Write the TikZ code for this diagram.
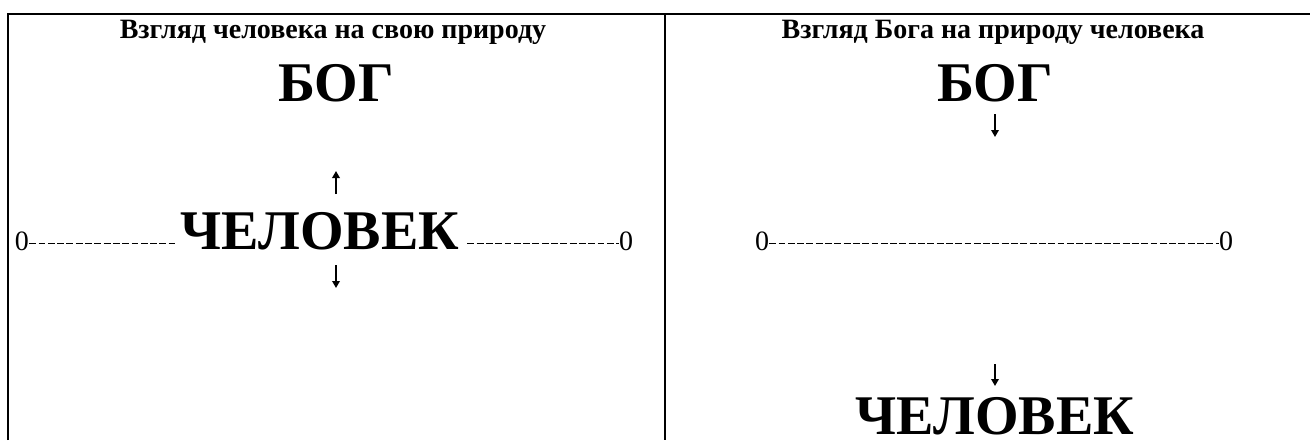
\documentclass[tikz,border=0pt]{standalone}
\usepackage{fontspec}
\setmainfont{Liberation Serif}
\usetikzlibrary{positioning,calc,arrows.meta}

\begin{document}
\begin{tikzpicture}[
  x=1pt,y=-1pt,
  heading/.style={font=\fontsize{28}{28}\selectfont\bfseries,inner sep=0pt,anchor=base},
  bigword/.style={font=\fontsize{56}{56}\selectfont\bfseries,inner sep=0pt,anchor=base},
  zero/.style={font=\fontsize{28}{28}\selectfont,inner sep=0pt,anchor=base},
  frame/.style={line width=1.6pt},
  dashline/.style={line width=1.3pt,dash pattern=on 6.9pt off 2.4pt},
  smallarrow/.style={line width=1.8pt,-{Triangle[width=7.5pt,length=7pt]}},
]
\useasboundingbox (0,0) rectangle (1310,440);

% table lines
\draw[frame] (8,440) -- (8,14) -- (1310,14);
\draw[frame] (665,14) -- (665,440);

% left cell
\node[heading] (tleft) at (333,38) {Взгляд человека на свою природу};
\node[bigword] (godl) at (336,101) {БОГ};
\node[bigword] (manl) at (320,249) {ЧЕЛОВЕК};
\node[zero] (zl1) at (22,250) {0};
\node[zero] (zl2) at (626,250) {0};
\coordinate (upl a) at (336,194);
\coordinate (upl b) at (336,171);
\coordinate (downl a) at (336,265);
\coordinate (downl b) at (336,288);
\draw[smallarrow] (upl a) -- (upl b);
\draw[smallarrow] (downl a) -- (downl b);
\draw[dashline,shorten >=6pt] ([yshift=6.2pt]zl1.base east) -- ([yshift=6.2pt]zl1.base east -| manl.west);
\draw[dashline,shorten <=8pt] ([yshift=6.2pt]zl2.base west -| manl.east) -- ([yshift=6.2pt]zl2.base west);

% right cell
\node[heading] (tright) at (993,38) {Взгляд Бога на природу человека};
\node[bigword] (godr) at (995,101) {БОГ};
\node[zero] (zr1) at (762,250) {0};
\node[zero] (zr2) at (1226,250) {0};
\draw[dashline] ([yshift=6.2pt]zr1.base east) -- ([yshift=6.2pt]zr2.base west);
\node[bigword] (manr) at (995,434) {ЧЕЛОВЕК};
\coordinate (downr a) at (995,114);
\coordinate (downr b) at (995,137);
\coordinate (downr c) at (995,364);
\coordinate (downr d) at (995,386);
\draw[smallarrow] (downr a) -- (downr b);
\draw[smallarrow] (downr c) -- (downr d);
\end{tikzpicture}
\end{document}
